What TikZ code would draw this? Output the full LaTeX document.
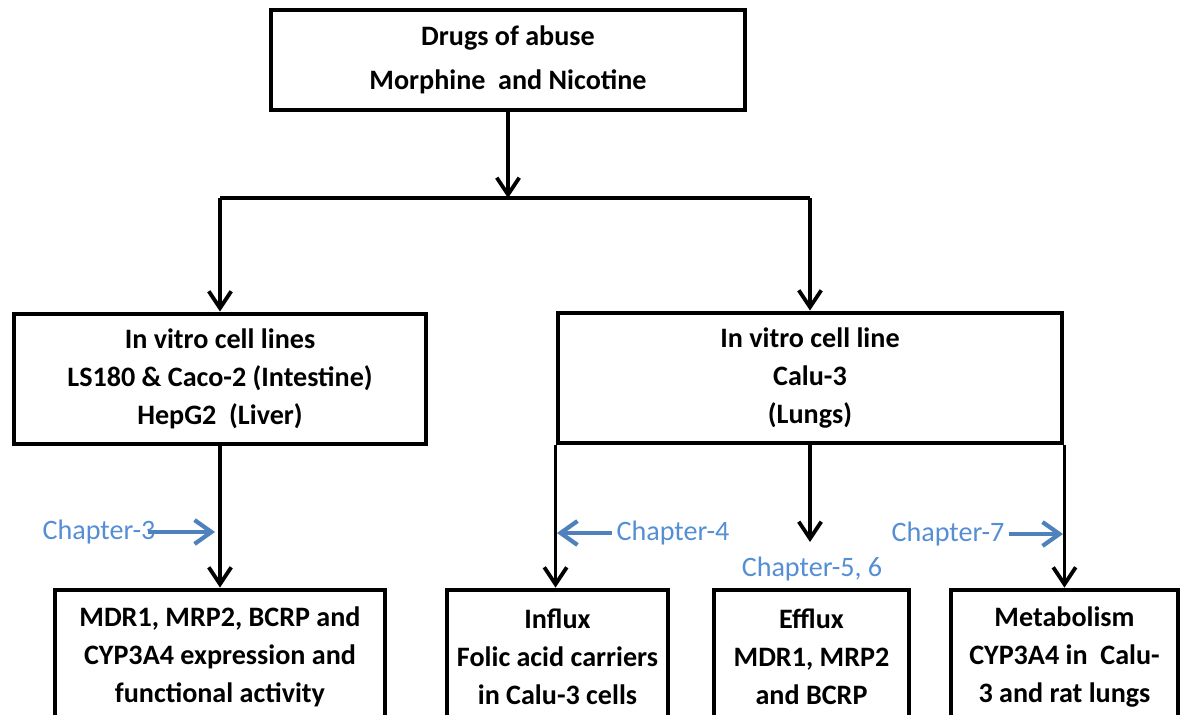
\documentclass[tikz,border=0pt]{standalone}
\usepackage{fontspec}
\setmainfont{Carlito}
\usetikzlibrary{arrows.meta}
\definecolor{chapblue}{RGB}{85,142,213}
\definecolor{chaparrow}{RGB}{79,129,189}

\begin{document}
\begin{tikzpicture}[
x = 0.025cm, y = -0.025cm,
box/.style = {draw, line width=3.4pt, align=center, inner sep=2pt,
	font=\fontsize{20}{27}\selectfont\bfseries},
link/.style = {line width=2.7pt},
arr/.style = {link, -{Straight Barb[length=12pt,width=16pt]}},
chap/.style = {text=chapblue, font=\fontsize{20}{24}\selectfont},
chaparr/.style = {line width=3pt, draw=chaparrow, -{Straight Barb[length=12pt,width=17pt]}}
]
\useasboundingbox (0,0) rectangle (1180,715);

\node[box, minimum width=11.85cm, minimum height=2.5cm,
	font=\fontsize{20}{31}\selectfont\bfseries] (drugs) at (508,60)
	{Drugs of abuse\\Morphine\ \ and Nicotine};
\node[box, minimum width=10.3cm, minimum height=3.25cm] (vitro) at (220,379)
	{In vitro cell lines\\LS180 \& Caco-2 (Intestine)\\HepG2\ \ (Liver)};
\node[box, minimum width=12.6cm, minimum height=3.25cm] (calu) at (810,378)
	{In vitro cell line\\Calu-3\\(Lungs)};

\node[box, minimum width=8.25cm, minimum height=3.35cm] (expr) at (220,657)
	{MDR1, MRP2, BCRP and\\CYP3A4 expression and\\functional activity};
\node[box, minimum width=5.525cm, minimum height=3.35cm] (influx) at (557.5,657)
	{Influx\\Folic acid carriers\\in Calu-3 cells};
\node[box, minimum width=4.875cm, minimum height=3.35cm] (efflux) at (811.5,657)
	{Efflux\\MDR1, MRP2\\and BCRP};
\node[box, minimum width=5.675cm, minimum height=3.35cm] (metab) at (1064.5,657)
	{Metabolism\\CYP3A4 in\ \ Calu-\\3 and rat lungs};

\coordinate (barL) at (220,198);
\coordinate (barR) at (810,198);
\coordinate (effluxtip) at (810,542);

\draw[arr] (drugs.south) -- (drugs.south |- barL);
\draw[link] (barL) -- (barR);
\draw[arr] (barL) -- (vitro.north);
\draw[arr] (barR) -- (calu.north);
\draw[arr] (vitro.south) -- (expr.north);
\draw[arr] (calu.south west) -- (calu.south west |- influx.north);
\draw[arr] (calu.south) -- (effluxtip);
\draw[arr] (calu.south east) -- (calu.south east |- metab.north);

\node[chap] (ch3) at (99,532) {Chapter-3};
\node[chap] (ch4) at (673,533) {Chapter-4};
\node[chap] (ch56) at (812,569) {Chapter-5, 6};
\node[chap] (ch7) at (948,534) {Chapter-7};

\draw[chaparr] ([xshift=-9pt]ch3.east) -- ([xshift=-3.5pt]vitro.south |- ch3);
\draw[chaparr] (ch4.west) -- ([xshift=1pt]calu.south west |- ch4);
\draw[chaparr] (ch7.east) -- ([xshift=-1pt]calu.south east |- ch7);
\end{tikzpicture}
\end{document}
